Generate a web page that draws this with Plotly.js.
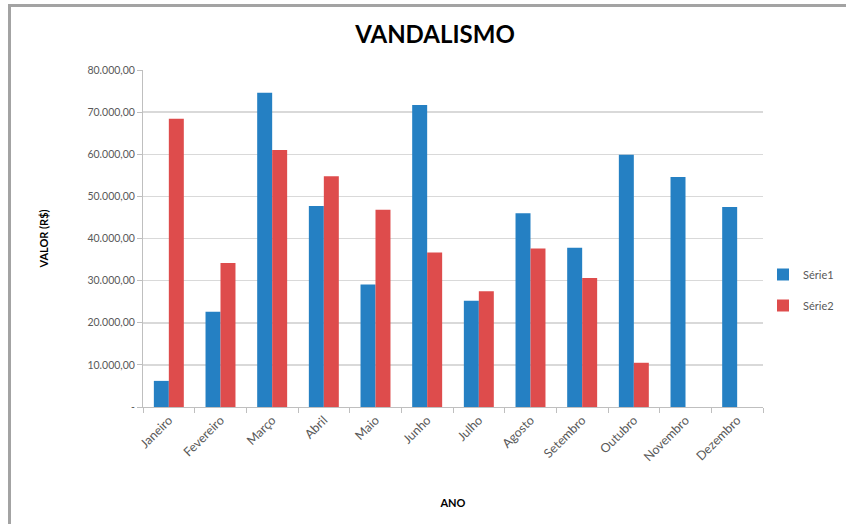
<!DOCTYPE html>
<html>
<head>
<meta charset="utf-8">
<script src="https://cdn.plot.ly/plotly-3.0.1.min.js"></script>
<style>
  html, body { margin: 0; padding: 0; background: #ffffff; }
  #wrap { position: relative; width: 846px; height: 524px; }
  #chart { width: 846px; height: 524px; }
  #frame { position: absolute; left: 8px; top: 4px; right: 0; bottom: 0;
           border-left: 3px solid #a3a3a3; border-top: 3px solid #a3a3a3;
           pointer-events: none; }
</style>
</head>
<body>
<div id="wrap">
  <div id="chart"></div>
  <div id="frame"></div>
</div>
<script>
const months = ["Janeiro","Fevereiro","Março","Abril","Maio","Junho","Julho","Agosto","Setembro","Outubro","Novembro","Dezembro"];
const serie1 = [6200, 22600, 74600, 47700, 29100, 71700, 25200, 46000, 37800, 59900, 54600, 47500];
const serie2 = [68400, 34200, 61000, 54800, 46800, 36700, 27500, 37600, 30600, 10500, null, null];
const yTickVals = [0, 10000, 20000, 30000, 40000, 50000, 60000, 70000, 80000];
const yTickText = ["-", "10.000,00", "20.000,00", "30.000,00", "40.000,00", "50.000,00", "60.000,00", "70.000,00", "80.000,00"];

const FONT = "Lato, 'Open Sans', 'Liberation Sans', sans-serif";

const traces = [
  { type: "bar", name: "Série1", x: months, y: serie1, legendgroup: "a",
    marker: { color: "#2580c3" } },
  { type: "bar", name: "Série2", x: months, y: serie2, legendgroup: "b",
    marker: { color: "#de4c4c" } }
];

const layout = {
  width: 846, height: 524,
  margin: { l: 143, r: 79, t: 70, b: 117 },
  paper_bgcolor: "#ffffff", plot_bgcolor: "#ffffff",
  font: { family: FONT, color: "#595959", size: 11 },
  barmode: "group", bargap: 0.42, bargroupgap: 0,
  title: { text: "<b>VANDALISMO</b>", x: 435 / 846, xref: "container", xanchor: "center",
           y: 1 - 35 / 524, yref: "container", yanchor: "middle",
           font: { family: FONT, size: 24, color: "#000000" } },
  xaxis: {
    type: "category",
    tickangle: -45,
    tickfont: { family: FONT, size: 12.5, color: "#595959" },
    showline: true, linecolor: "#bfbfbf", linewidth: 1,
    ticks: "outside", tickson: "boundaries", ticklen: 5, tickcolor: "#bfbfbf",
    showgrid: false, zeroline: false, automargin: false,
    title: { text: "<b>ANO</b>", font: { family: FONT, size: 11, color: "#000000" }, standoff: 36 }
  },
  yaxis: {
    range: [0, 80000],
    tickmode: "array", tickvals: yTickVals, ticktext: yTickText,
    tickfont: { family: FONT, size: 10.5, color: "#595959" },
    showline: true, linecolor: "#bfbfbf", linewidth: 1,
    ticks: "outside", ticklen: 5, tickcolor: "#bfbfbf",
    showgrid: true, gridcolor: "#d9d9d9", gridwidth: 1.5,
    zeroline: false, automargin: false,
    title: { text: "<b>VALOR (R$)</b>", font: { family: FONT, size: 11, color: "#000000" }, standoff: 36 }
  },
  showlegend: true,
  legend: {
    xref: "container", yref: "container",
    x: 763 / 846, xanchor: "left",
    y: 1 - 290 / 524, yanchor: "middle",
    traceorder: "grouped", tracegroupgap: 12,
    font: { family: FONT, size: 11, color: "#595959" },
    itemwidth: 30, bgcolor: "rgba(0,0,0,0)"
  }
};

Plotly.newPlot("chart", traces, layout, { displayModeBar: false, staticPlot: true });
</script>
</body>
</html>
